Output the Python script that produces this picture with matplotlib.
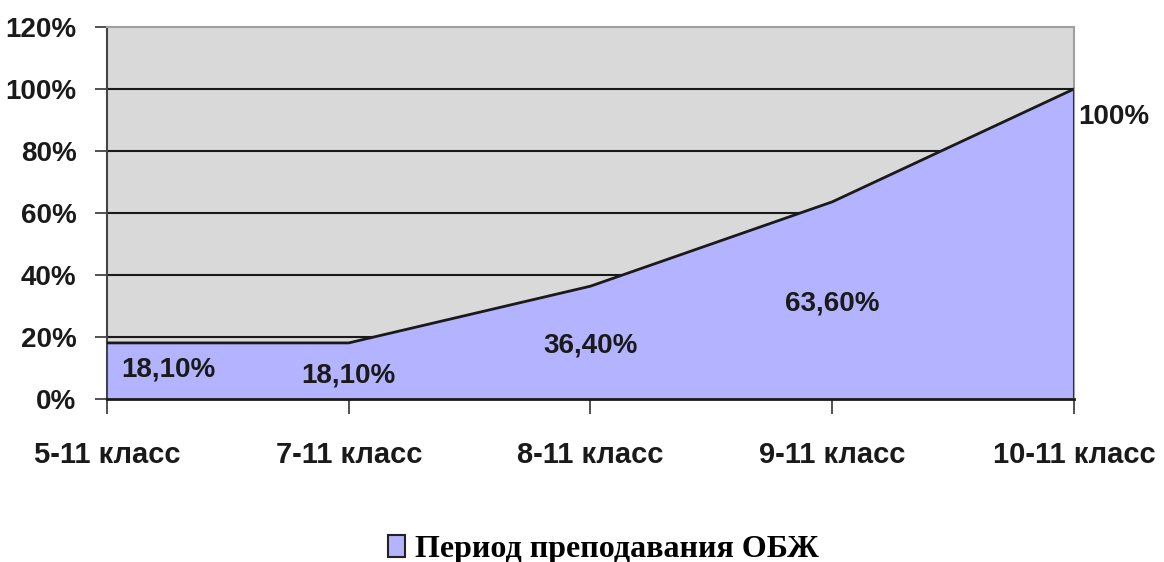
import matplotlib.pyplot as plt
import matplotlib.font_manager as fm
from matplotlib.patches import Patch
from matplotlib.ticker import FuncFormatter

# ---------------------------------------------------------
# DATA
# ---------------------------------------------------------
categories = ["5-11 класс", "7-11 класс", "8-11 класс", "9-11 класс", "10-11 класс"]
values = [18.1, 18.1, 36.4, 63.6, 100.0]
value_labels = ["18,10%", "18,10%", "36,40%", "63,60%", "100%"]
series_name = "Период преподавания ОБЖ"
yticks = [0, 20, 40, 60, 80, 100, 120]

# ---------------------------------------------------------
# STYLE
# ---------------------------------------------------------
sans = "Liberation Sans"
FILL = "#B3B3FF"
BG = "#D9D9D9"

fig = plt.figure(figsize=(11.64, 5.62), dpi=100)
ax = fig.add_axes([0.0919, 0.29, 0.8308, 0.662])
ax.set_facecolor(BG)

x = list(range(len(categories)))
ax.fill_between(x, values, 0, color=FILL, zorder=2)
ax.plot(x, values, color="#1a1a1a", lw=2, zorder=3)
ax.plot([x[-1], x[-1]], [0, values[-1]], color="#333333", lw=1.5, zorder=3)

ax.set_xlim(x[0], x[-1])
ax.set_ylim(0, 120)
ax.set_yticks(yticks)
ax.yaxis.set_major_formatter(FuncFormatter(lambda v, p: f"{int(v)}%"))
for v in yticks[1:-1]:
    ax.axhline(v, color="#1a1a1a", lw=1.5, zorder=1)

ax.set_xticks(x)
ax.set_xticklabels(categories)
ax.tick_params(axis="both", direction="out", length=9, width=1.2, color="#333333")
ax.tick_params(axis="x", length=11, pad=19)
ax.tick_params(axis="y", pad=13)
for lab in ax.get_xticklabels():
    lab.set_fontsize(21)
for lab in ax.get_yticklabels():
    lab.set_fontsize(20)
for lab in ax.get_xticklabels() + ax.get_yticklabels():
    lab.set_fontfamily(sans)
    lab.set_fontweight("bold")
    lab.set_color("#1a1a1a")

ax.spines["left"].set_color("#444444")
ax.spines["left"].set_linewidth(1.5)
ax.spines["bottom"].set_color("#1a1a1a")
ax.spines["bottom"].set_linewidth(2)
for s in ["top", "right"]:
    ax.spines[s].set_color("#A0A0A0")
    ax.spines[s].set_linewidth(1.5)

# data labels, in the middle of the area (last one outside, right)
offsets = [(44, 1), (0, -3), (0, -2), (0, -2), (29, -20)]
for i, (v, t) in enumerate(zip(values, value_labels)):
    ypos = v / 2 if i < len(values) - 1 else v
    ax.annotate(t, (x[i], ypos), xytext=offsets[i],
                textcoords="offset points", ha="center", va="center",
                fontsize=20, fontweight="bold", family=sans, color="#1a1a1a",
                annotation_clip=False, zorder=4)

handle = Patch(facecolor=FILL, edgecolor="#222222", linewidth=1.5)
fig.legend([handle], [series_name], loc="center", bbox_to_anchor=(0.518, 0.022),
           frameon=False, handlelength=0.55, handleheight=0.7, handletextpad=0.3,
           prop=fm.FontProperties(family="Liberation Serif", weight="bold", size=23))

fig.savefig("out.png", dpi=100)
